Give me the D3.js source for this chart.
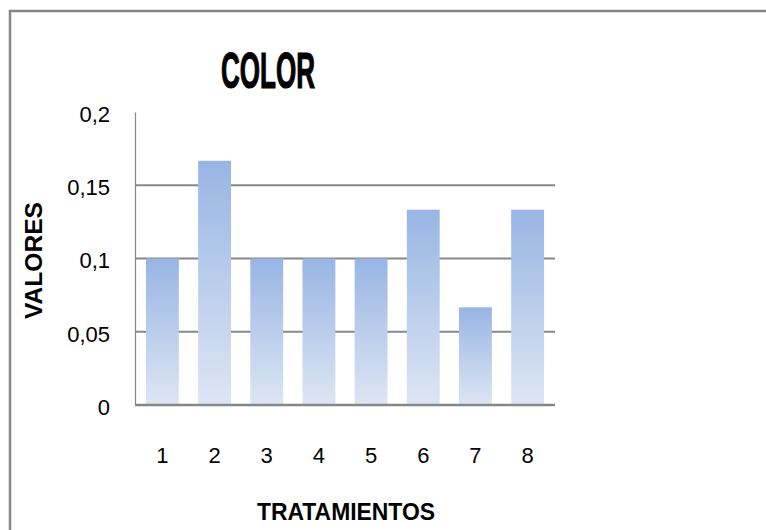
<!DOCTYPE html>
<html>
<head>
<meta charset="utf-8">
<script src="https://cdn.jsdelivr.net/npm/d3@7"></script>
<style>
  html, body { margin: 0; padding: 0; background: #fff; }
  svg { display: block; }
  text { font-family: "Liberation Sans", Arial, sans-serif; fill: #000; }
</style>
</head>
<body>
<svg id="chart" width="766" height="530"></svg>
<script>
// Treatments and their colour scores
const categories = ["1", "2", "3", "4", "5", "6", "7", "8"];
const values = [0.1, 0.1667, 0.1, 0.1, 0.1, 0.1333, 0.0667, 0.1333];
const yTicks = [0, 0.05, 0.1, 0.15, 0.2];
const yTickLabels = ["0", "0,05", "0,1", "0,15", "0,2"];
const chartTitle = "COLOR";
const xTitle = "TRATAMIENTOS";
const yTitle = "VALORES";

const svg = d3.select("#chart");
const plot = { left: 135, right: 555, top: 112, bottom: 405 };
const gridColor = "#878787";

// Outer chart frame
svg.append("rect")
  .attr("x", 10).attr("y", 11)
  .attr("width", 800).attr("height", 600)
  .attr("fill", "none")
  .attr("stroke", gridColor)
  .attr("stroke-width", 2.5);

const x = d3.scaleBand()
  .domain(categories)
  .range([plot.left, plot.right])
  .paddingInner(0.37)
  .paddingOuter(0.21);

const y = d3.scaleLinear()
  .domain([0, 0.2])
  .range([plot.bottom, plot.top]);

// Bar fill: darker blue at the top fading to pale at the base
const defs = svg.append("defs");
const grad = defs.append("linearGradient")
  .attr("id", "barFill")
  .attr("x1", 0).attr("y1", 0).attr("x2", 0).attr("y2", 1);
grad.append("stop").attr("offset", "0%").attr("stop-color", "#98b5e4");
grad.append("stop").attr("offset", "100%").attr("stop-color", "#dde6f4");

// Horizontal gridlines (no line at the top value)
svg.append("g")
  .selectAll("line")
  .data(yTicks.filter(t => t > 0 && t < 0.2))
  .join("line")
  .attr("x1", plot.left).attr("x2", plot.right)
  .attr("y1", d => y(d)).attr("y2", d => y(d))
  .attr("stroke", gridColor)
  .attr("stroke-width", 1.8);

// Bars
svg.append("g")
  .selectAll("rect")
  .data(values)
  .join("rect")
  .attr("x", (d, i) => x(categories[i]))
  .attr("width", x.bandwidth())
  .attr("y", d => y(d))
  .attr("height", d => y(0) - y(d))
  .attr("fill", "url(#barFill)");

// Y axis
const yAxis = d3.axisLeft(y)
  .tickValues(yTicks)
  .tickFormat((d, i) => yTickLabels[i])
  .tickSize(0)
  .tickPadding(25);
const gy = svg.append("g")
  .attr("transform", `translate(${plot.left},0)`)
  .call(yAxis);
gy.select(".domain").attr("stroke", gridColor).attr("stroke-width", 1.2);
gy.selectAll("text")
  .attr("font-size", 22)
  .attr("dy", "0.42em")
  .style("font-family", "'Liberation Sans', Arial, sans-serif");

// X axis
const xAxis = d3.axisBottom(x).tickSize(0).tickPadding(58);
const gx = svg.append("g")
  .attr("transform", `translate(0,${plot.bottom})`)
  .call(xAxis);
gx.select(".domain")
  .attr("stroke", gridColor)
  .attr("stroke-width", 2.4)
  .attr("d", `M${plot.left},0H${plot.right}`);
gx.selectAll("text")
  .attr("font-size", 22)
  .attr("dy", "0")
  .style("font-family", "'Liberation Sans', Arial, sans-serif");

// Titles
svg.append("text")
  .attr("x", 268).attr("y", 88)
  .attr("text-anchor", "middle")
  .attr("font-size", 50)
  .attr("font-weight", "bold")
  .attr("stroke", "#000")
  .attr("stroke-width", 1.2)
  .attr("textLength", 94)
  .attr("lengthAdjust", "spacingAndGlyphs")
  .text(chartTitle);

svg.append("text")
  .attr("x", 346).attr("y", 520)
  .attr("text-anchor", "middle")
  .attr("font-size", 23)
  .attr("font-weight", "bold")
  .attr("textLength", 178)
  .attr("lengthAdjust", "spacingAndGlyphs")
  .text(xTitle);

svg.append("text")
  .attr("transform", "translate(42,260.5) rotate(-90)")
  .attr("text-anchor", "middle")
  .attr("font-size", 23)
  .attr("font-weight", "bold")
  .attr("textLength", 117)
  .attr("lengthAdjust", "spacingAndGlyphs")
  .text(yTitle);
</script>
</body>
</html>
